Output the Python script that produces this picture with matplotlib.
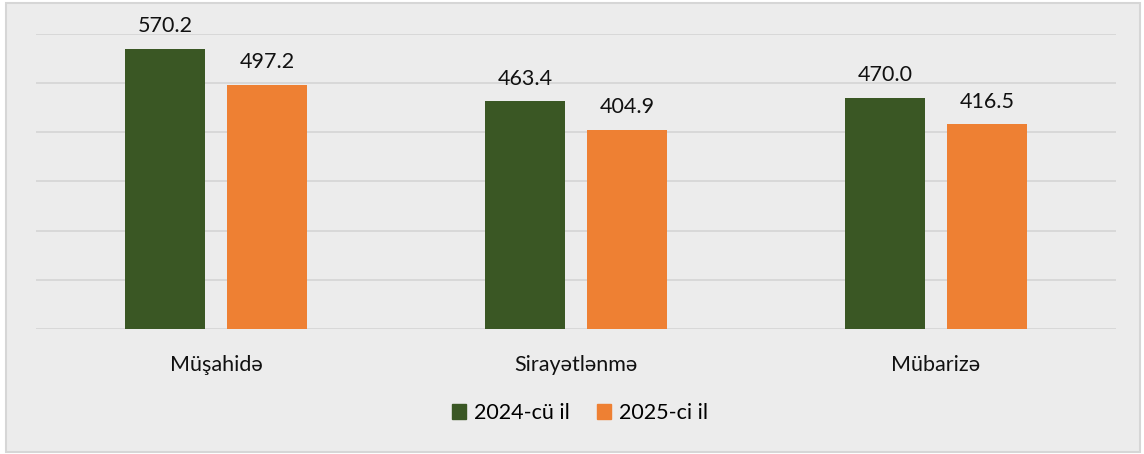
import matplotlib
matplotlib.use("Agg")
import matplotlib.pyplot as plt
import numpy as np
from matplotlib.patches import Rectangle, Patch

categories = ["Müşahidə", "Sirayətlənmə", "Mübarizə"]
series_names = ["2024-cü il", "2025-ci il"]
values_2024 = [570.2, 463.4, 470.0]
values_2025 = [497.2, 404.9, 416.5]

colors = ["#3a5724", "#ee8033"]
plt.rcParams['font.family'] = ['Lato', 'DejaVu Sans']

fig = plt.figure(figsize=(11.44, 4.54), dpi=100)
fig.patch.set_facecolor("white")
bg = Rectangle((6/1144, 2/454), 1134/1144, 449/454, transform=fig.transFigure,
               facecolor="#ececec", edgecolor="#d6d6d6", linewidth=1.5, zorder=-10)
fig.patches.append(bg)

ax = fig.add_axes([36/1144, 1 - 329/454, 1080/1144, 295/454])
ax.set_facecolor("none")
x = np.arange(len(categories))
w = 0.222
off = 0.1417
b1 = ax.bar(x - off, values_2024, w, color=colors[0], label=series_names[0], zorder=3)
b2 = ax.bar(x + off, values_2025, w, color=colors[1], label=series_names[1], zorder=3)
for bars, vals in ((b1, values_2024), (b2, values_2025)):
    for r, v in zip(bars, vals):
        ax.annotate(f"{v:.1f}", (r.get_x() + r.get_width()/2, v), xytext=(0, 9),
                    textcoords="offset points", ha="center", va="bottom", fontsize=15.5, color="#111111")

ax.set_xlim(-0.5, 2.5)
ax.set_ylim(0, 600)
ax.set_yticks(np.arange(0, 601, 100))
ax.yaxis.grid(True, color="#d6d6d6", linewidth=1.3, zorder=0)
ax.tick_params(axis="y", left=False, labelleft=False)
ax.tick_params(axis="x", bottom=False, labelsize=15.5, pad=15, colors="#111111")
ax.set_xticks(x)
ax.set_xticklabels(categories)
for s in ax.spines.values():
    s.set_visible(False)

handles = [Patch(color=c, label=n) for c, n in zip(colors, series_names)]
fig.legend(handles=handles, loc="center", bbox_to_anchor=(580/1144, 1 - 413/454), ncol=2,
           frameon=False, fontsize=15.5, handlelength=0.65, handleheight=0.65,
           handletextpad=0.35, columnspacing=1.3)

fig.savefig("out.png", dpi=100, facecolor=fig.get_facecolor())
